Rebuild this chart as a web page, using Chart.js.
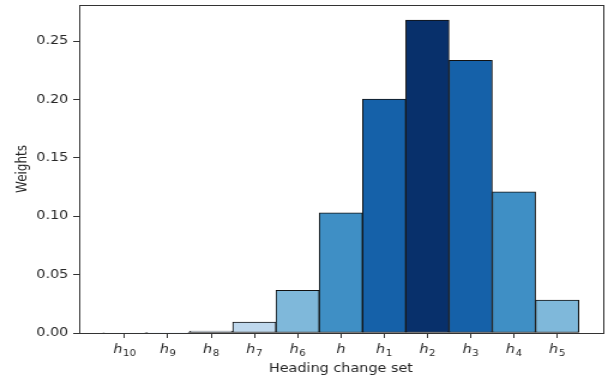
<!DOCTYPE html>
<html>
<head>
<meta charset="utf-8">
<script src="https://cdn.jsdelivr.net/npm/chart.js@4/dist/chart.umd.min.js"></script>
<style>
  html, body { margin: 0; padding: 0; background: #fff; overflow: hidden; }
  /* the reference is stretched sideways, so draw narrow and widen */
  #wrap { width: 507px; height: 381px; transform: scaleX(1.1992); transform-origin: 0 0; }
</style>
</head>
<body>
<div id="wrap"><canvas id="chart"></canvas></div>
<script>
/* ── Data ───────────────────────────────────────────────────── */
const labels  = ['h10', 'h9', 'h8', 'h7', 'h6', 'h', 'h1', 'h2', 'h3', 'h4', 'h5'];
const weights = [0.0004, 0.0003, 0.0017, 0.0094, 0.0365, 0.1029,
                 0.2005, 0.2680, 0.2337, 0.1209, 0.0283];
const colors  = ['#f4f9fe', '#eef5fc', '#dfebf7', '#bfd8ed', '#7fb8da', '#3f8fc5',
                 '#1561a9', '#08306b', '#1561a9', '#3f8fc5', '#7fb8da'];
const yTicks  = [0, 0.05, 0.10, 0.15, 0.20, 0.25];

const FONT = 'DejaVu Sans';
const INK  = '#262626';

/* ── Frame on top / right like matplotlib spines ────────────── */
const frame = {
  id: 'frame',
  afterDraw(chart) {
    const a = chart.chartArea, c = chart.ctx;
    c.save();
    c.strokeStyle = '#333';
    c.lineWidth = 1;
    c.strokeRect(Math.round(a.left) + 0.5, Math.round(a.top) + 0.5,
                 Math.round(a.right - a.left), Math.round(a.bottom - a.top));
    c.restore();
  }
};

/* ── x tick labels as italic h with an upright subscript ────── */
const subLabels = {
  id: 'subLabels',
  afterDraw(chart) {
    const s = chart.scales.x, c = chart.ctx;
    const base = s.top + 20;
    const main = `italic 12px ${FONT}`, sub = `8.5px ${FONT}`;
    c.save();
    c.fillStyle = INK;
    c.textBaseline = 'alphabetic';
    c.textAlign = 'left';
    labels.forEach((l, i) => {
      const num = l.slice(1);
      c.font = main;
      const wh = c.measureText('h').width;
      c.font = sub;
      const wn = num ? c.measureText(num).width + 0.5 : 0;
      const x0 = s.getPixelForValue(i) - (wh + wn) / 2;
      c.font = main;
      c.fillText('h', x0, base);
      if (num) {
        c.font = sub;
        c.fillText(num, x0 + wh + 0.5, base + 2.5);
      }
    });
    c.restore();
  }
};

new Chart(document.getElementById('chart'), {
  type: 'bar',
  data: {
    datasets: [{
      data: weights.map((w, i) => ({ x: i, y: w })),
      backgroundColor: colors,
      borderColor: '#111',
      borderWidth: 1,
      borderSkipped: false,
      barPercentage: 1,
      categoryPercentage: 1
    }]
  },
  options: {
    responsive: true,
    maintainAspectRatio: false,
    animation: false,
    layout: { padding: { top: 5, right: 4.5, left: 0, bottom: 0 } },
    plugins: { legend: { display: false }, tooltip: { enabled: false } },
    scales: {
      x: {
        type: 'linear',
        min: -1.05,
        max: 11.05,
        offset: false,
        afterBuildTicks: s => { s.ticks = labels.map((_, i) => ({ value: i })); },
        afterFit: s => { s.height = 48; },
        ticks: { display: false },
        grid: { offset: false, drawOnChartArea: false, drawTicks: true, tickLength: 5, color: '#333' },
        border: { color: '#333' },
        title: {
          display: true, text: 'Heading change set', color: INK,
          font: { family: FONT, size: 12 }, padding: { top: 0, bottom: 5 }
        }
      },
      y: {
        min: 0,
        max: 0.281,
        afterBuildTicks: s => { s.ticks = yTicks.map(v => ({ value: v })); },
        afterFit: s => { s.width = 66; s.paddingTop = 0; },
        ticks: {
          callback: v => v.toFixed(2),
          color: INK, padding: 4,
          font: { family: FONT, size: 12 }
        },
        grid: { drawOnChartArea: false, drawTicks: true, tickLength: 5, color: '#333' },
        border: { color: '#333' },
        title: {
          display: true, text: 'Weights', color: INK,
          font: { family: FONT, size: 12 }, padding: { top: 12, bottom: 0 }
        }
      }
    }
  },
  plugins: [frame, subLabels]
});
</script>
</body>
</html>
